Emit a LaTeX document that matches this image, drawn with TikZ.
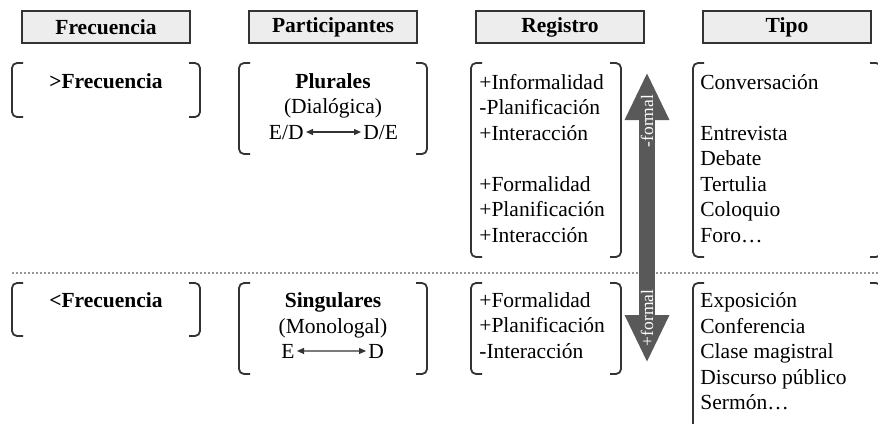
\documentclass[tikz,border=0pt]{standalone}
\usepackage{fontspec}
\setmainfont{Liberation Serif}
\usetikzlibrary{arrows.meta}
\definecolor{boxgray}{RGB}{237,237,237}
\definecolor{linegray}{RGB}{51,51,51}
\definecolor{arrowgray}{RGB}{89,89,89}
\definecolor{dotgray}{RGB}{150,150,150}
\tikzset{
  head/.style={draw=linegray, line width=0.9pt, fill=boxgray, minimum width=84pt, minimum height=16pt, inner sep=0pt, font=\fontsize{10.75}{12.75}\selectfont\bfseries},
  brk/.style={draw=linegray, line width=0.9pt, rounded corners=2.5pt},
  txt/.style={inner sep=0pt, font=\fontsize{10.75}{12.75}\selectfont, align=left},
  btxt/.style={inner sep=0pt, font=\fontsize{10.75}{12.75}\selectfont\bfseries},
  ends/.style={inner sep=1pt, font=\fontsize{10.75}{12.75}\selectfont},
  thinarrow/.style={draw=linegray, line width=0.6pt, {Triangle[length=3.5pt,width=3pt]}-{Triangle[length=3.5pt,width=3pt]}},
  bigarrow/.style={draw=arrowgray, line width=8pt, {Triangle[length=24pt,width=20.5pt]}-{Triangle[length=24pt,width=20.5pt]}},
  formal/.style={rotate=90, text=white, inner sep=0pt, font=\fontsize{8.75}{10}\selectfont}
}
\begin{document}
\begin{tikzpicture}[x=0.5pt,y=-0.5pt]
\useasboundingbox (0,0) rectangle (878,423);
% headers
\node[head] (hfreq) at (106,27){Frecuencia};
\node[head] (hpart) at (333,27){Participantes};
\node[head] (hreg) at (560,27){Registro};
\node[head] (htipo) at (787,27){Tipo};

% separator
\draw[dotgray, line width=0.6pt, dash pattern=on 1pt off 1pt] (12,273) -- (878,273);

% brackets, upper row
\draw[brk] (23,63) -- (12,63) -- (12,117) -- (23,117);
\draw[brk] (189,63) -- (200,63) -- (200,117) -- (189,117);
\draw[brk] (250,63) -- (239,63) -- (239,154) -- (250,154);
\draw[brk] (416,63) -- (427,63) -- (427,154) -- (416,154);
\draw[brk] (482,63) -- (471,63) -- (471,257) -- (482,257);
\draw[brk] (610,63) -- (621,63) -- (621,257) -- (610,257);
\draw[brk] (704,63) -- (693,63) -- (693,257) -- (704,257);
\draw[brk] (870,63) -- (881,63) -- (881,257) -- (870,257);

% brackets, lower row
\draw[brk] (23,283) -- (12,283) -- (12,336) -- (23,336);
\draw[brk] (189,283) -- (200,283) -- (200,336) -- (189,336);
\draw[brk] (250,283) -- (239,283) -- (239,374) -- (250,374);
\draw[brk] (416,283) -- (427,283) -- (427,374) -- (416,374);
\draw[brk] (482,283) -- (471,283) -- (471,374) -- (482,374);
\draw[brk] (610,283) -- (621,283) -- (621,374) -- (610,374);
\draw[brk] (704,283) -- (693,283) -- (693,440);
\draw[brk] (870,283) -- (881,283) -- (881,440);

% upper row (multi-line nodes sit on their last line)
\node[btxt, anchor=base] (morefreq) at (106,88){>Frecuencia};
\node[btxt, anchor=base] (plural) at (333,88){Plurales};
\node[txt, anchor=base] (dialog) at (333,113.5){(Dialógica)};
\node[ends, anchor=base east] (ed) at (306,139){E/D};
\node[ends, anchor=base west] (de) at (361,139){D/E};
\draw[thinarrow] (ed) -- (de);
\node[txt, anchor=base west] (regup) at (479,242){+Informalidad\\-Planificación\\+Interacción\\[12.75pt]+Formalidad\\+Planificación\\+Interacción};
\node[txt, anchor=base west] (tipoup) at (700,242){Conversación\\[12.75pt]Entrevista\\Debate\\Tertulia\\Coloquio\\Foro…};

% lower row
\node[btxt, anchor=base] (lessfreq) at (106,307){<Frecuencia};
\node[btxt, anchor=base] (singular) at (333,307){Singulares};
\node[txt, anchor=base] (monolog) at (333,333){(Monologal)};
\node[ends, anchor=base east] (e) at (297,358){E};
\node[ends, anchor=base west] (d) at (366,358){D};
\draw[thinarrow] (e) -- (d);
\node[txt, anchor=base west] (reglow) at (479,358){+Formalidad\\+Planificación\\-Interacción};
\node[txt, anchor=base west] (tipolow) at (700,409.5){Exposición\\Conferencia\\Clase magistral\\Discurso público\\Sermón…};

% formality arrow
\coordinate (up) at (647,72);
\coordinate (down) at (647,363);
\draw[bigarrow] (down) -- (up);
\node[formal] (lessformal) at (647,121){-formal};
\node[formal] (moreformal) at (647,318){+formal};

\end{tikzpicture}
\end{document}
